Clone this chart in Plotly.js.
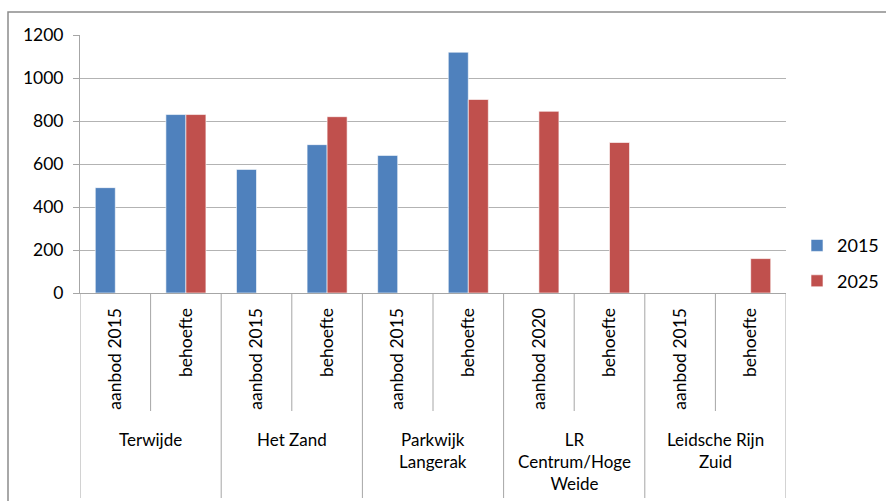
<!DOCTYPE html>
<html><head><meta charset="utf-8">
<script src="https://cdn.plot.ly/plotly-3.0.1.min.js"></script>
<style>html,body{margin:0;padding:0;background:#fff}#chart{width:886px;height:501px}</style>
</head><body><div id="chart"></div>
<script>
const innerLabels = ["aanbod 2015","behoefte","aanbod 2015","behoefte","aanbod 2015","behoefte","aanbod 2020","behoefte","aanbod 2015","behoefte"];
const outerLabels = ["Terwijde","Het Zand","Parkwijk<br>Langerak","LR<br>Centrum/Hoge<br>Weide","Leidsche Rijn<br>Zuid"];
const values2015 = [490, 830, 575, 690, 640, 1120, null, null, null, null];
const values2025 = [null, 830, null, 820, null, 900, 845, 700, null, 160];
const yTicks = [0, 200, 400, 600, 800, 1000, 1200];

const cats = innerLabels.map((l, i) => i);
const FONT = "Lato, 'Open Sans', sans-serif";
const gray = "#8c8c8c";

const traces = [
  {type:"bar", name:"2015", x:cats, y:values2015, legendgroup:"a",
   marker:{color:"#4F81BD", line:{color:"rgba(255,255,255,0.6)", width:1}}},
  {type:"bar", name:"2025", x:cats, y:values2025, legendgroup:"b",
   marker:{color:"#C0504D", line:{color:"rgba(255,255,255,0.6)", width:1}}}
];

const W = 706, H = 258; // plot area px
const shapes = [];
shapes.push({type:"rect", xref:"paper", yref:"paper",
  x0:(8-80)/W, x1:(900-80)/W, y0:(293-520)/H, y1:(293-12)/H,
  line:{color:gray, width:1.5}, fillcolor:"rgba(0,0,0,0)", layer:"below"});
for (let i = 0; i <= innerLabels.length; i++) {
  const isOuter = i % 2 === 0;
  shapes.push({type:"line", xref:"x", yref:"paper", x0:i-0.5, x1:i-0.5,
    y0:0, y1: isOuter ? (293-498)/H : (293-411)/H,
    line:{color:"#a6a6a6", width:1}});
}
const annotations = outerLabels.map((t, k) => ({
  text:t, x:2*k+0.5, xref:"x", y:0, yref:"paper", yanchor:"top", yshift:-134,
  showarrow:false, font:{family:FONT, size:17, color:"#000"}, align:"center"
}));

const layout = {
  width:886, height:501,
  margin:{l:80, r:100, t:35, b:208, autoexpand:false},
  paper_bgcolor:"#fff", plot_bgcolor:"#fff",
  font:{family:FONT, size:16, color:"#000"},
  bargap:0.433, bargroupgap:0, barmode:"group",
  showlegend:true,
  legend:{x:1.0156, xanchor:"left", y:0.255, yanchor:"top", tracegroupgap:9,
    font:{family:FONT, size:18, color:"#000"}, itemwidth:30},
  xaxis:{type:"linear", range:[-0.5, 9.5], tickvals:cats, ticktext:innerLabels,
    tickangle:-90, showgrid:false, zeroline:false, showline:true, linecolor:"#a6a6a6",
    ticks:"", tickfont:{family:FONT, size:17.5, color:"#000"}, ticklabelstandoff:7, fixedrange:true},
  yaxis:{range:[0,1200], tickvals:yTicks, showgrid:true, gridcolor:"#b3b3b3", gridwidth:1,
    zeroline:false, showline:true, linecolor:"#a6a6a6", ticks:"outside", ticklen:6,
    tickcolor:"#a6a6a6", tickfont:{family:FONT, size:17.5, color:"#000"}, ticklabelstandoff:6},
  shapes:shapes, annotations:annotations
};
Plotly.newPlot("chart", traces, layout, {displayModeBar:false, staticPlot:true});
</script></body></html>
